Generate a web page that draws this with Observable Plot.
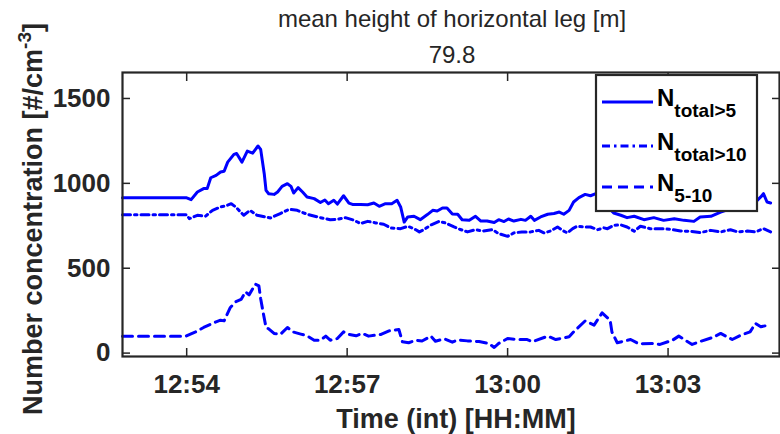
<!DOCTYPE html>
<html><head><meta charset="utf-8">
<script src="https://cdn.jsdelivr.net/npm/d3@7"></script>
<script src="https://cdn.jsdelivr.net/npm/@observablehq/plot@0.6"></script>
<style>
body{margin:0;background:#fff;}
#chart{width:780px;height:434px;}
</style></head><body><div id="chart"></div>
<script>
const titleLines = ["mean height of horizontal leg [m]", "79.8"];
const xLabel = "Time (int) [HH:MM]";
const yLabelMain = "Number concentration [#/cm";
const yLabelSup = "-3";
const yLabelEnd = "]";
const xTicks = ["12:54:00", "12:57:00", "13:00:00", "13:03:00"];
const yTicks = [0, 500, 1000, 1500];
const legendMain = ["N", "N", "N"];
const legendSub = ["total>5", "total>10", "5-10"];

const t1 = ["12:52:48","12:54:00","12:54:05","12:54:12","12:54:19","12:54:23","12:54:27","12:54:33","12:54:38","12:54:42","12:54:46","12:54:53","12:54:56","12:55:02","12:55:08","12:55:14","12:55:20","12:55:23","12:55:27","12:55:29","12:55:32","12:55:38","12:55:42","12:55:47","12:55:53","12:55:57","12:56:00","12:56:05","12:56:10","12:56:15","12:56:23","12:56:30","12:56:35","12:56:39","12:56:45","12:56:49","12:56:56","12:57:02","12:57:06","12:57:15","12:57:23","12:57:30","12:57:36","12:57:43","12:57:50","12:57:56","12:58:00","12:58:04","12:58:08","12:58:15","12:58:22","12:58:30","12:58:36","12:58:41","12:58:47","12:58:52","12:58:58","12:59:04","12:59:09","12:59:17","12:59:24","12:59:30","12:59:37","12:59:45","12:59:50","12:59:56","13:00:01","13:00:07","13:00:15","13:00:20","13:00:26","13:00:30","13:00:37","13:00:45","13:00:52","13:00:58","13:01:03","13:01:09","13:01:14","13:01:20","13:01:27","13:01:33","13:01:39","13:01:44","13:01:51","13:01:59","13:02:07","13:02:14","13:02:22","13:02:33","13:02:44","13:02:55","13:03:07","13:03:18","13:03:29","13:03:36","13:03:48","13:03:59","13:04:10","13:04:27","13:04:40","13:04:44","13:04:47","13:04:51","13:04:55"];
const nTotal5 = [915,915,904,949,969,969,1033,1047,1067,1071,1125,1171,1176,1125,1190,1178,1220,1200,1057,959,939,935,949,982,998,982,943,975,949,920,910,887,902,880,900,878,927,884,876,876,874,884,865,880,880,900,861,772,802,806,786,816,841,837,855,855,820,818,786,782,806,778,778,769,786,775,790,778,788,782,806,782,802,818,822,831,818,841,890,916,935,927,939,920,870,825,812,798,806,786,798,782,792,782,776,802,806,831,850,870,900,920,939,890,884];

const t2 = ["12:52:48","12:54:00","12:54:03","12:54:12","12:54:21","12:54:29","12:54:38","12:54:44","12:54:50","12:54:55","12:55:04","12:55:11","12:55:19","12:55:34","12:55:45","12:55:55","12:56:04","12:56:15","12:56:27","12:56:30","12:56:41","12:56:49","12:56:58","12:57:08","12:57:15","12:57:23","12:57:32","12:57:41","12:57:49","12:58:00","12:58:08","12:58:15","12:58:21","12:58:26","12:58:34","12:58:43","12:58:50","12:59:00","12:59:07","12:59:15","12:59:24","12:59:32","12:59:43","12:59:50","13:00:00","13:00:07","13:00:16","13:00:26","13:00:35","13:00:41","13:00:48","13:00:56","13:01:03","13:01:07","13:01:13","13:01:18","13:01:26","13:01:33","13:01:41","13:01:48","13:01:52","13:01:59","13:02:07","13:02:14","13:02:22","13:02:29","13:02:40","13:02:51","13:03:03","13:03:14","13:03:25","13:03:36","13:03:48","13:03:59","13:04:10","13:04:18","13:04:29","13:04:38","13:04:47","13:04:55"];
const nTotal10 = [815,815,792,812,806,841,861,867,880,861,812,841,812,796,822,847,841,818,802,798,786,788,798,782,763,776,767,759,737,733,747,733,714,727,755,776,767,743,728,714,727,719,727,704,688,708,714,714,723,708,719,743,719,708,733,747,743,743,727,738,733,753,755,743,718,747,733,733,729,719,718,710,723,714,727,714,719,714,733,714];

const t3 = ["12:52:48","12:53:59","12:54:10","12:54:19","12:54:33","12:54:38","12:54:42","12:54:49","12:54:55","12:55:01","12:55:06","12:55:10","12:55:17","12:55:21","12:55:23","12:55:26","12:55:29","12:55:32","12:55:38","12:55:45","12:55:53","12:55:59","12:56:08","12:56:15","12:56:23","12:56:30","12:56:36","12:56:41","12:56:49","12:56:56","12:57:02","12:57:10","12:57:17","12:57:24","12:57:38","12:57:47","12:57:58","12:58:02","12:58:09","12:58:17","12:58:24","12:58:34","12:58:39","12:58:49","12:58:58","12:59:04","12:59:15","12:59:22","12:59:28","12:59:39","12:59:45","12:59:50","13:00:00","13:00:11","13:00:22","13:00:28","13:00:45","13:00:54","13:01:09","13:01:14","13:01:27","13:01:37","13:01:46","13:01:55","13:01:57","13:02:03","13:02:18","13:02:27","13:02:42","13:02:51","13:03:05","13:03:12","13:03:27","13:03:35","13:03:50","13:03:59","13:04:12","13:04:21","13:04:32","13:04:38","13:04:44","13:04:53","13:04:55"];
const n5to10 = [100,100,125,151,184,194,190,269,302,316,361,343,406,396,320,233,151,143,116,110,151,125,112,102,76,76,100,76,86,125,110,102,116,100,110,131,139,67,61,76,71,100,70,84,64,78,72,70,68,57,33,57,86,80,80,67,100,80,96,125,190,165,237,194,125,61,80,55,57,51,76,100,51,67,92,116,80,104,125,175,155,165,171];

const parse = d3.utcParse("%H:%M:%S");
const toRows = (ts, vs) => ts.map((t, i) => ({t: parse(t), v: vs[i]}));
const s1 = toRows(t1, nTotal5), s2 = toRows(t2, nTotal10), s3 = toRows(t3, n5to10);

const blue = "#0000ff", ink = "#262626";
const dashes = [null, "8,4,2.5,4", "10,6"];
const font = "'Liberation Sans', Arial, Helvetica, sans-serif";
const lw = 3;

const plot = Plot.plot({
  width: 780, height: 434,
  marginTop: 72, marginLeft: 122, marginRight: 1, marginBottom: 78,
  style: {fontFamily: font, color: ink, background: "#fff"},
  x: {type: "utc", domain: [parse("12:52:48"), parse("13:05:05")]},
  y: {domain: [-20, 1653]},
  marks: [
    Plot.line(s3, {x: "t", y: "v", stroke: blue, strokeWidth: lw, strokeDasharray: dashes[2]}),
    Plot.line(s2, {x: "t", y: "v", stroke: blue, strokeWidth: lw, strokeDasharray: dashes[1]}),
    Plot.line(s1, {x: "t", y: "v", stroke: blue, strokeWidth: lw}),
    Plot.frame({stroke: ink, strokeWidth: 2.2}),
    Plot.axisX(xTicks.map(parse), {anchor: "bottom", tickSize: -8, tickPadding: 26, tickFormat: d3.utcFormat("%H:%M"), fontSize: 26, fontWeight: "bold", fill: ink, stroke: ink, strokeWidth: 1.5, label: null}),
    Plot.axisX(xTicks.map(parse), {anchor: "top", tickSize: -8, tickFormat: () => "", stroke: ink, strokeWidth: 1.5, label: null}),
    Plot.axisY(yTicks, {anchor: "left", tickSize: -8, tickPadding: 20, tickFormat: d => String(d), fontSize: 26, fontWeight: "bold", fill: ink, stroke: ink, strokeWidth: 1.5, label: null}),
    Plot.axisY(yTicks, {anchor: "right", tickSize: -8, tickFormat: () => "", stroke: ink, strokeWidth: 1.5, label: null})
  ]
});
document.getElementById("chart").appendChild(plot);

const svg = d3.select(plot);
// titles
svg.append("text").attr("x", 452).attr("y", 27).attr("text-anchor", "middle")
  .attr("font-family", font).attr("font-size", 24).attr("fill", ink).text(titleLines[0]);
svg.append("text").attr("x", 452).attr("y", 63).attr("text-anchor", "middle")
  .attr("font-family", font).attr("font-size", 24).attr("fill", ink).text(titleLines[1]);
// x label
svg.append("text").attr("x", 456).attr("y", 428).attr("text-anchor", "middle")
  .attr("font-family", font).attr("font-size", 27).attr("font-weight", "bold").attr("fill", ink).text(xLabel);
// y label
const yl = svg.append("text").attr("transform", "translate(42,219) rotate(-90)").attr("text-anchor", "middle")
  .attr("font-family", font).attr("font-size", 27).attr("font-weight", "bold").attr("fill", ink);
yl.append("tspan").text(yLabelMain);
yl.append("tspan").attr("font-size", 19).attr("dy", -11).text(yLabelSup);
yl.append("tspan").attr("dy", 11).text(yLabelEnd);

// legend
const lg = svg.append("g");
lg.append("rect").attr("x", 596).attr("y", 75).attr("width", 161).attr("height", 136)
  .attr("fill", "#fff").attr("stroke", ink).attr("stroke-width", 2.2);
const rowY = [102, 146, 187];
legendMain.forEach((m, i) => {
  lg.append("line").attr("x1", 602).attr("x2", 653).attr("y1", rowY[i]).attr("y2", rowY[i])
    .attr("stroke", blue).attr("stroke-width", lw).attr("stroke-dasharray", dashes[i] || null);
  const tx = lg.append("text").attr("x", 657).attr("y", rowY[i] + 4).attr("text-anchor", "start")
    .attr("font-family", font).attr("font-weight", "bold").attr("font-size", 24).attr("fill", "#000");
  tx.append("tspan").text(m);
  tx.append("tspan").attr("font-size", 19).attr("dy", 11).text(legendSub[i]);
});
</script></body></html>
